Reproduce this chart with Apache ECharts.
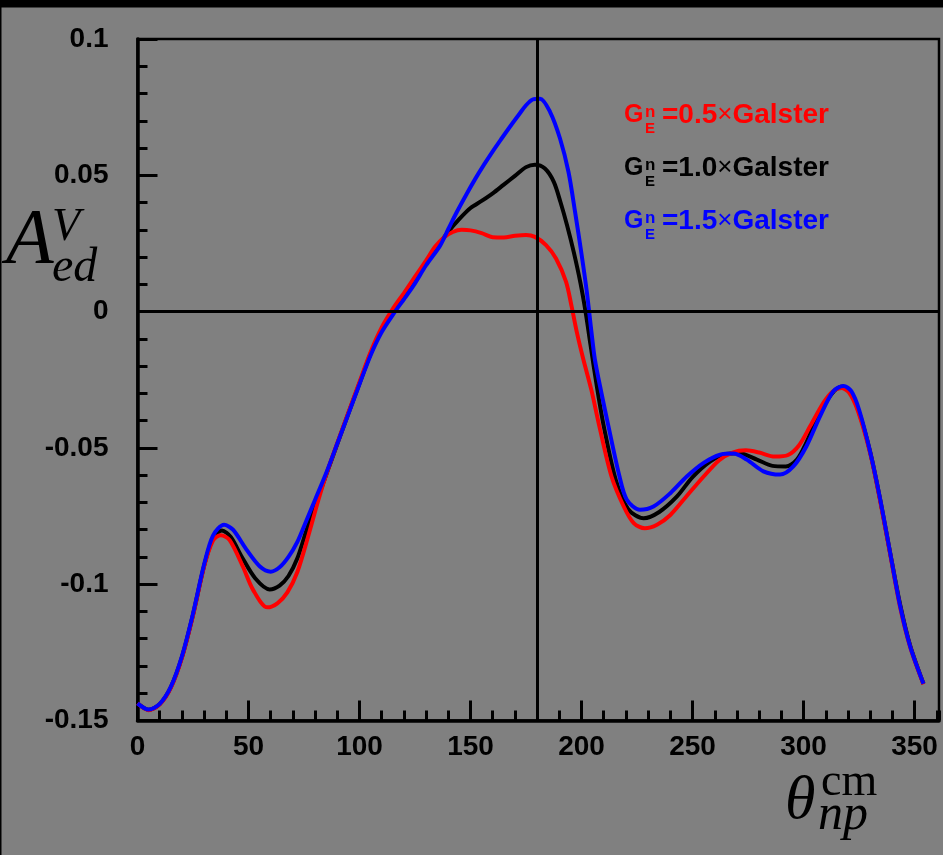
<!DOCTYPE html>
<html><head><meta charset="utf-8">
<script src="https://cdn.jsdelivr.net/npm/echarts@6/dist/echarts.min.js"></script>
<style>html,body{margin:0;padding:0;background:#808080;overflow:hidden}#c{width:943px;height:855px}</style>
</head><body><div id="c"></div>
<script>
// ---- data (theta in degrees, asymmetry values) ----
const thetaBlack = [0,5,10,15,20,25,30,34,38,42,47,53,59.5,64,68,72,76,81,85,90,95,100,105,110,115,120,125,130,135,140,145,150,155,160,165,170,175,179,183.5,187.5,190.5,193.5,196.5,199.5,202,204,207,210,215.5,221,228,235,243,250,258,265,271,279,286,292,297,301,307,313,317.5,321,325,330,334.5,339,343.5,348,354];
const asymBlack = [-0.1437,-0.1461,-0.1440,-0.1378,-0.1268,-0.1112,-0.0932,-0.0832,-0.0803,-0.0827,-0.0900,-0.0978,-0.1019,-0.1005,-0.0970,-0.0905,-0.0805,-0.0690,-0.0598,-0.0485,-0.0373,-0.0263,-0.0155,-0.0068,-0.0005,0.0058,0.0116,0.0178,0.0238,0.0293,0.0340,0.0380,0.0406,0.0434,0.0466,0.0498,0.0530,0.0539,0.0525,0.0476,0.0402,0.0316,0.0218,0.0105,-0.0010,-0.0120,-0.0280,-0.0420,-0.0620,-0.0725,-0.0758,-0.0735,-0.0678,-0.0607,-0.0549,-0.0522,-0.0520,-0.0543,-0.0566,-0.0568,-0.0543,-0.0485,-0.0375,-0.0298,-0.0275,-0.0295,-0.0370,-0.0515,-0.0690,-0.0885,-0.1075,-0.1225,-0.1365];

const thetaRed = [0,5,10,15,20,25,30,34,37.5,41.5,47.5,52,58.5,63,67.5,72,76.5,81.5,85,90,95,100,105,110,115,120,125,130,134,138,142,146,150,155,160,165,170,175,179,184,188.5,193,195.5,198,200.8,204.5,208,213.5,219,223.5,228.5,234,240,247,255,262,268,274,280,287,293,298,303,309,313,317,320.5,324.5,330,334.5,339,343.5,348,354];
const asymRed = [-0.1437,-0.1462,-0.1441,-0.1380,-0.1270,-0.1115,-0.0935,-0.0840,-0.0820,-0.0838,-0.0936,-0.1020,-0.1085,-0.1070,-0.1030,-0.0955,-0.0835,-0.0690,-0.0598,-0.0482,-0.0370,-0.0258,-0.0148,-0.0058,0.0010,0.0068,0.0128,0.0188,0.0238,0.0272,0.0292,0.0300,0.0298,0.0288,0.0273,0.0272,0.0278,0.0281,0.0274,0.0244,0.0195,0.0110,0.0020,-0.0080,-0.0175,-0.0290,-0.0420,-0.0605,-0.0715,-0.0776,-0.0795,-0.0782,-0.0746,-0.0680,-0.0605,-0.0545,-0.0517,-0.0509,-0.0517,-0.0532,-0.0526,-0.0490,-0.0420,-0.0334,-0.0294,-0.0280,-0.0297,-0.0365,-0.0520,-0.0695,-0.0890,-0.1085,-0.1230,-0.1367];

const thetaBlue = [0,5,10,15,20,25,30,34,39,43,49,55,60,64,68,72,76,80,85,90,95,100,105,110,116,120,124.3,130,136.3,140,144,148,152,156,160,164,168,172,175,178,181.3,185.8,190.3,194.1,197.1,200.1,202.4,204.4,206,209,212.1,217.1,220.4,226.3,232.4,240,247.4,255,262.4,268.4,274.4,281.9,289.4,295.4,301.3,307.4,313.4,318,321.5,325,330,334.5,339,343.5,348,354];
const asymBlue = [-0.1437,-0.1460,-0.1439,-0.1377,-0.1265,-0.1108,-0.0928,-0.0822,-0.0782,-0.0800,-0.0872,-0.0934,-0.0954,-0.0938,-0.0900,-0.0845,-0.0768,-0.0690,-0.0592,-0.0484,-0.0375,-0.0266,-0.0160,-0.0075,0.0000,0.0045,0.0095,0.0170,0.0242,0.0303,0.0368,0.0428,0.0485,0.0538,0.0588,0.0635,0.0681,0.0725,0.0757,0.0778,0.0781,0.0733,0.0635,0.0513,0.0365,0.0205,0.0071,-0.0070,-0.0175,-0.0300,-0.0420,-0.0605,-0.0690,-0.0727,-0.0715,-0.0666,-0.0605,-0.0555,-0.0525,-0.0521,-0.0543,-0.0586,-0.0598,-0.0568,-0.0494,-0.0384,-0.0292,-0.0273,-0.0292,-0.0360,-0.0515,-0.0688,-0.0885,-0.1080,-0.1228,-0.1365];

const refTheta = [180];
const refAsym = [0];
const legendFactors = ['0.5', '1.0', '1.5'];
const seriesColors = ['#ff0000', '#000000', '#0000ff'];
const xRange = [0, 361];
const yRange = [-0.15, 0.1];

function pairs(xs, ys) { return xs.map((x, i) => [x, ys[i]]); }

const chart = echarts.init(document.getElementById('c'), null, {renderer: 'canvas'});
const labelFont = {color: '#000', fontFamily: 'Liberation Sans', fontWeight: 'bold', fontSize: 28};
const serif = '"Liberation Serif", "DejaVu Serif", serif';
const sans = '"Liberation Sans", Arial, sans-serif';

const legendGraphics = [];
legendFactors.forEach((f, i) => {
  const y = 115 + i * 53;
  const c = seriesColors[i];
  legendGraphics.push(
    {type: 'text', x: 624, y: y, style: {text: 'G', fill: c, fontFamily: sans, fontWeight: 'bold', fontSize: 25, verticalAlign: 'middle'}},
    {type: 'text', x: 645, y: y - 3, style: {text: 'n', fill: c, fontFamily: sans, fontWeight: 'bold', fontSize: 17, verticalAlign: 'middle'}},
    {type: 'text', x: 645, y: y + 14, style: {text: 'E', fill: c, fontFamily: sans, fontWeight: 'bold', fontSize: 15, verticalAlign: 'middle'}},
    {type: 'text', x: 662, y: y, style: {
      text: '{b|=' + f + '}{m|×}{b|Galster}', verticalAlign: 'middle',
      rich: {
        b: {fill: c, fontFamily: sans, fontWeight: 'bold', fontSize: 28},
        m: {fill: c, fontFamily: sans, fontWeight: 'normal', fontSize: 26}
      }}}
  );
});

const option = {
  animation: false,
  backgroundColor: '#808080',
  grid: {left: 137.5, top: 39, width: 801.5, height: 681.5, show: true, borderColor: '#000', borderWidth: 2.5, backgroundColor: 'transparent'},
  xAxis: [
    {type: 'value', min: xRange[0], max: xRange[1], interval: 50,
     axisLine: {show: true, onZero: false, lineStyle: {color: '#000', width: 3.5}},
     axisTick: {show: true, inside: true, length: 20, lineStyle: {color: '#000', width: 3}},
     axisLabel: Object.assign({showMaxLabel: false, margin: 13}, labelFont),
     splitLine: {show: false}},
    {type: 'value', min: xRange[0], max: xRange[1], interval: 10, position: 'bottom',
     axisLine: {show: false, onZero: false},
     axisTick: {show: true, inside: true, length: 10, lineStyle: {color: '#000', width: 3}},
     axisLabel: {show: false}, splitLine: {show: false}}
  ],
  yAxis: [{
    type: 'value', min: yRange[0], max: yRange[1], interval: 0.05,
    axisLine: {show: true, onZero: false, lineStyle: {color: '#000', width: 3.5}},
    axisTick: {show: true, inside: true, length: 20, lineStyle: {color: '#000', width: 3}},
    minorTick: {show: true, splitNumber: 5, length: 10, lineStyle: {color: '#000', width: 3}},
    axisLabel: Object.assign({margin: 29, padding: [6, 0, 0, 0]}, labelFont),
    splitLine: {show: false}
  }],
  series: [
    {name: '1.0', type: 'line', data: pairs(thetaBlack, asymBlack), showSymbol: false, smooth: 0.3, z: 2,
     lineStyle: {color: seriesColors[1], width: 4}},
    {name: '0.5', type: 'line', data: pairs(thetaRed, asymRed), showSymbol: false, smooth: 0.3, z: 3,
     lineStyle: {color: seriesColors[0], width: 4}},
    {name: '1.5', type: 'line', data: pairs(thetaBlue, asymBlue), showSymbol: false, smooth: 0.3, z: 4,
     lineStyle: {color: seriesColors[2], width: 4}},
    {name: 'ref', type: 'line', data: [], z: 6,
     markLine: {silent: true, symbol: 'none', label: {show: false}, animation: false,
       lineStyle: {color: '#000', width: 3, type: 'solid'},
       data: [{xAxis: refTheta[0]}, {yAxis: refAsym[0]}]}}
  ],
  graphic: [
    {type: 'rect', shape: {x: 0, y: 0, width: 943, height: 7.5}, style: {fill: '#000'}, silent: true},
    {type: 'rect', shape: {x: 0, y: 0, width: 1.5, height: 855}, style: {fill: '#000'}, silent: true},
    // y-axis title A^V_ed
    {type: 'text', x: 6, y: 241, style: {text: 'A', fill: '#000', fontFamily: serif, fontStyle: 'italic', fontSize: 78, verticalAlign: 'middle'}},
    {type: 'text', x: 52, y: 228, style: {text: 'V', fill: '#000', fontFamily: serif, fontStyle: 'italic', fontSize: 46, verticalAlign: 'middle'}},
    {type: 'text', x: 52, y: 268, style: {text: 'ed', fill: '#000', fontFamily: serif, fontStyle: 'italic', fontSize: 48, verticalAlign: 'middle'}},
    // x-axis title theta^cm_np
    {type: 'text', x: 785, y: 802, style: {text: 'θ', fill: '#000', fontFamily: serif, fontStyle: 'italic', fontSize: 62, verticalAlign: 'middle'}},
    {type: 'text', x: 821, y: 783, style: {text: 'cm', fill: '#000', fontFamily: serif, fontSize: 46, verticalAlign: 'middle'}},
    {type: 'text', x: 818, y: 816, style: {text: 'np', fill: '#000', fontFamily: serif, fontStyle: 'italic', fontSize: 50, verticalAlign: 'middle'}}
  ].concat(legendGraphics)
};
chart.setOption(option);
</script>
</body></html>
